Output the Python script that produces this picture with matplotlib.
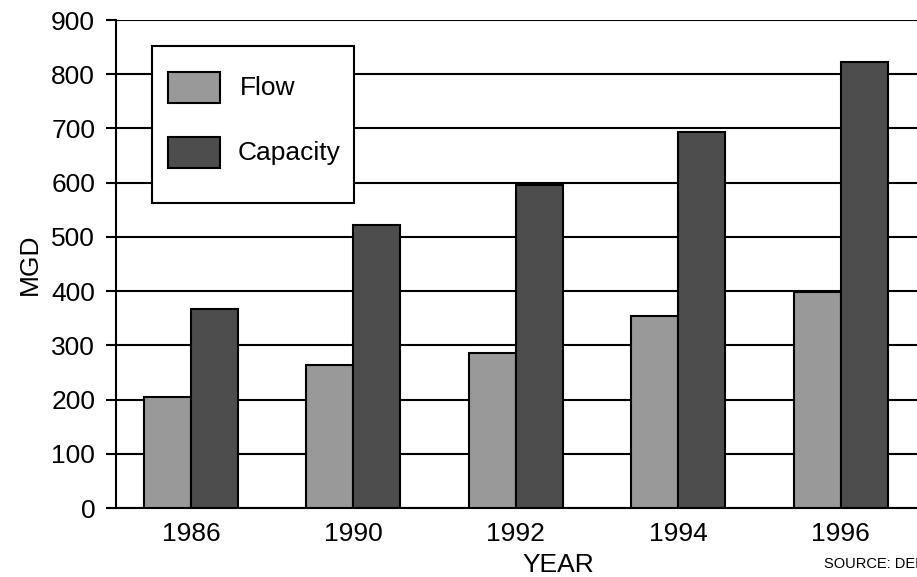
import numpy as np
import matplotlib.pyplot as plt
from matplotlib.patches import Rectangle

years = ["1986", "1990", "1992", "1994", "1996"]
flow = [205, 263, 286, 354, 398]
capacity = [367, 522, 596, 694, 823]
y_ticks = [0, 100, 200, 300, 400, 500, 600, 700, 800, 900]

plt.rcParams['font.family'] = ['Liberation Sans', 'DejaVu Sans']

W, H = 917, 577
fig = plt.figure(figsize=(W / 100, H / 100), dpi=100)
# axes runs past the right edge of the figure, like the cropped original
ax_w = 884
ax = fig.add_axes([116 / W, 69 / H, ax_w / W, 488 / H])

step = 162.4   # pixels between year groups
x0 = 191 - 116  # first group offset from the left spine
x = np.arange(len(years))
bw = 47 / step
ax.bar(x - bw / 2, flow, bw, color='#999999', edgecolor='black', linewidth=1.5, zorder=3)
ax.bar(x + bw / 2, capacity, bw, color='#4d4d4d', edgecolor='black', linewidth=1.5, zorder=3)

ax.set_xlim(-x0 / step, (ax_w - x0) / step)
ax.set_ylim(0, 900)
ax.set_yticks(y_ticks)
ax.set_xticks(x)
ax.set_xticklabels(years)
ax.yaxis.grid(True, color='black', linewidth=1.5, zorder=0)
ax.set_axisbelow(True)
for s in ['top', 'right']:
    ax.spines[s].set_visible(False)
for s in ['left', 'bottom']:
    ax.spines[s].set_linewidth(1.5)
ax.tick_params(axis='y', length=7, width=1.5, pad=8, labelsize=19, colors='black')
ax.tick_params(axis='x', length=0, pad=10, labelsize=19)
ax.set_ylabel("MGD", fontsize=19, labelpad=7)
ax.set_xlabel("YEAR", fontsize=19, labelpad=5)

# legend box drawn by hand to match the original placement
def px(xp, yp):
    return xp / W, 1 - yp / H

lx, ly = px(152, 203)
fig.patches.append(Rectangle((lx, ly), 202 / W, 157 / H, transform=fig.transFigure,
                             facecolor='white', edgecolor='black', linewidth=1.5, zorder=5))
for (yp, col, lab, tx) in [(103, '#999999', 'Flow', 268), (168, '#4d4d4d', 'Capacity', 289)]:
    rx, ry = px(168, yp)
    fig.patches.append(Rectangle((rx, ry), 52 / W, 31 / H, transform=fig.transFigure,
                                 facecolor=col, edgecolor='black', linewidth=1.5, zorder=6))
    tx_, ty_ = px(tx, yp - 15)
    fig.text(tx_, ty_, lab, fontsize=19, ha='center', va='center', zorder=7)

# the source note runs off the right edge in the original too
sx, sy = px(824, 564)
fig.text(sx, sy, "SOURCE: DEP", fontsize=10.5, ha='left', va='center')

fig.savefig("out.png", dpi=100)
